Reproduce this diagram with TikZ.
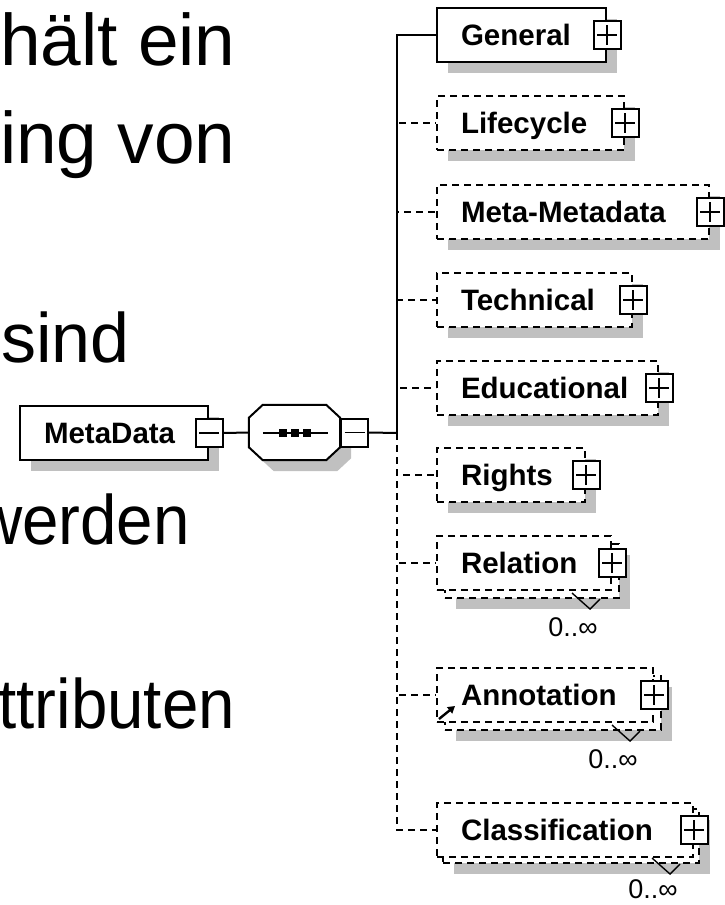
\documentclass[tikz,border=0pt]{standalone}
\usepackage{fontspec}
\setmainfont{Liberation Sans}
\usetikzlibrary{calc,arrows.meta,shadows}
\definecolor{shd}{RGB}{192,192,192}
\newcommand{\octpath}[1]{($(seq.north west)+(14+#1,#1)$) -- ($(seq.north east)+(-14+#1,#1)$) -- ($(seq.north east)+(#1,13+#1)$) -- ($(seq.south east)+(#1,-13+#1)$) -- ($(seq.south east)+(-14+#1,#1)$) -- ($(seq.south west)+(14+#1,#1)$) -- ($(seq.south west)+(#1,-13+#1)$) -- ($(seq.north west)+(#1,13+#1)$) -- cycle}
\begin{document}
\begin{tikzpicture}[x=1pt,y=-1pt,
  lw/.style={line width=2pt},
  dsh/.style={dash pattern=on 7pt off 5pt},
  box/.style={lw, draw=black, fill=white, minimum height=54pt, inner xsep=24pt, inner ysep=0pt,
    align=left, text height=21pt, text depth=0pt, anchor=west,
    font=\bfseries\fontsize{29.5}{30}\selectfont},
  optbox/.style={box, dsh},
  shadowed/.style={general shadow={fill=shd, shadow xshift=11pt, shadow yshift=-11pt}},
  pm/.style={lw, draw=black, fill=white, minimum width=27pt, minimum height=28pt, inner sep=0pt},
  plusbox/.style={pm, path picture={\draw[line width=1.8pt]
     ($(path picture bounding box.center)+(-10,0)$) -- ($(path picture bounding box.center)+(10,0)$)
     ($(path picture bounding box.center)+(0,-10)$) -- ($(path picture bounding box.center)+(0,10)$);}},
  minusbox/.style={pm, path picture={\draw[line width=1.8pt]
     ($(path picture bounding box.center)+(-10,0)$) -- ($(path picture bounding box.center)+(10,0)$);}},
  card/.style={font=\fontsize{27}{27}\selectfont, inner sep=0pt},
  chev/.style={line width=1.4pt},
  bigA/.style={font=\fontsize{73}{73}\selectfont, inner sep=0pt},
  bigB/.style={font=\fontsize{70}{70}\selectfont, inner sep=0pt}
]
\useasboundingbox (0,0) rectangle (725,905);

% large background text
\node[bigA, anchor=base west] (t1) at (0,65) {hält ein};
\node[bigA, anchor=base west] (t2) at (0,163) {ing von};
\node[bigB, anchor=base west] (t3) at (1,362) {sind};
\begin{scope}
\clip (0,0) rectangle (725,905);
\node[bigB, anchor=base east] (t4) at (190,544) {\scalebox{0.935}[1]{werden}};
\node[bigB, anchor=base east] (t5) at (235,728) {\scalebox{0.935}[1]{Attributen}};
\end{scope}

% root element
\node[box, shadowed, text width=140pt] (md) at (19,433) {MetaData};
\node[minusbox] (mdM) at (md.east) {};

% sequence compositor
\node[minimum width=91pt, minimum height=55pt, inner sep=0pt] (seq) at (294.5,432.5) {};
\fill[shd] \octpath{11};
\draw[lw, fill=white] \octpath{0};
\draw[lw] ($(seq.west)+(14,0)$) -- ($(seq.east)+(-12,0)$);
\foreach \dx in {-12,0,12} \fill ($(seq.center)+(\dx-4,-4)$) rectangle +(8,8);
\node[minusbox, anchor=west] (seqM) at (seq.east) {};

% child elements
\node[box, shadowed, text width=121pt] (gen) at (436,35) {General};
\node[optbox, shadowed, text width=139pt] (life) at (436,123) {Lifecycle};
\node[optbox, shadowed, text width=224pt] (meta) at (436,212) {Meta-Metadata};
\node[optbox, shadowed, text width=147pt] (tech) at (436,300) {Technical};
\node[optbox, shadowed, text width=173pt] (edu) at (436,388) {Educational};
\node[optbox, shadowed, text width=100pt] (rights) at (436,475) {Rights};

\node[optbox, shadowed, text width=126pt] (relB) at (444,571) {};
\node[optbox, text width=126pt] (rel) at (436,563) {Relation};
\node[optbox, shadowed, text width=168pt] (annB) at (444,703) {};
\node[optbox, text width=168pt] (ann) at (436,695) {Annotation};
\node[optbox, shadowed, text width=208pt] (clsB) at (442,836) {};
\node[optbox, text width=208pt] (cls) at (436,830) {Classification};

\foreach \n in {gen,life,meta,tech,edu,rights,rel,ann,cls}
  \node[plusbox] (\n P) at (\n.east) {};

% cardinality marks
\foreach \n/\dx/\ly in {rel/-30/18,ann/-32/18,cls/-30/15} {
  \coordinate (\n Apex) at ($(\n B.south east)+(\dx,10)$);
  \draw[chev] ($(\n Apex)+(-18,-16)$) -- (\n Apex) -- ($(\n Apex)+(10,-10)$);
  \node[card] (\n C) at ($(\n Apex)+(-17,\ly)$) {0..∞};
}

% reference arrow on Annotation
\coordinate (refA) at (439,719);
\coordinate (refB) at (455,706);
\draw[line width=2.4pt, -{Triangle[length=7pt,width=8pt]}] (refA) -- (refB);

% connectors
\draw[lw] (mdM.east) -- (seq.west);
\coordinate (j) at (397,433);
\draw[lw] (seqM.east) -- (j);
\foreach \n in {life,meta,tech,edu,rights,rel,ann,cls}
  \draw[lw, dsh] (j) |- (\n.west);
\draw[lw] (j) |- (gen.west);
\end{tikzpicture}
\end{document}
